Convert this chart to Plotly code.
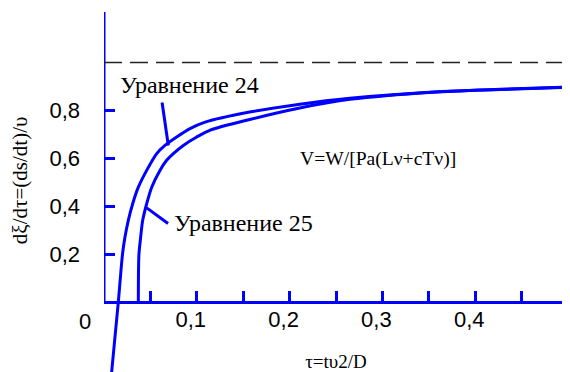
import plotly.graph_objects as go

# --- data ---
tau_24 = [0.0080, 0.0154, 0.0183, 0.0200, 0.0226, 0.0262, 0.0309, 0.0370, 0.0460, 0.0568,
          0.0657, 0.0783, 0.0927, 0.109, 0.157, 0.211, 0.265, 0.355, 0.427, 0.500]
val_24 = [-0.30, 0.000, 0.133, 0.203, 0.272, 0.342, 0.411, 0.480, 0.550, 0.620,
          0.654, 0.689, 0.724, 0.751, 0.793, 0.826, 0.851, 0.877, 0.888, 0.897]

tau_25 = [0.0370, 0.0372, 0.0377, 0.0395, 0.0417, 0.0460, 0.0514, 0.0603, 0.0675, 0.0747,
          0.0855, 0.0999, 0.114, 0.157, 0.211, 0.265, 0.355, 0.427, 0.500]
val_25 = [0.000, 0.133, 0.203, 0.272, 0.342, 0.411, 0.480, 0.550, 0.592, 0.620,
          0.654, 0.689, 0.717, 0.762, 0.810, 0.846, 0.876, 0.887, 0.896]

x_tickvals = [0.05, 0.1, 0.15, 0.2, 0.25, 0.3, 0.35, 0.4, 0.45]
x_ticktext = ["", "0,1", "", "0,2", "", "0,3", "", "0,4", ""]
y_tickvals = [0.2, 0.4, 0.6, 0.8]
y_ticktext = ["0,2", "0,4", "0,6", "0,8"]

limit_value = 1.0
x_range = [0.0, 0.5]
y_range = [-0.29, 1.21]

label_24 = "Уравнение 24"
label_25 = "Уравнение 25"
formula = "V=W/[Pa(Lν+cTν)]"
origin_label = "0"
x_title = "τ=tυ2/D"
y_title = "dξ/dτ=(ds/dt)/υ"

BLUE = "#0000FF"
SERIF = "Liberation Serif, DejaVu Serif, serif"
SANS = "Liberation Sans, Arial, sans-serif"

fig = go.Figure()
fig.add_trace(go.Scatter(x=tau_24, y=val_24, mode="lines", name=label_24,
                         line=dict(color=BLUE, width=3, shape="spline", smoothing=0.8)))
fig.add_trace(go.Scatter(x=tau_25, y=val_25, mode="lines", name=label_25,
                         line=dict(color=BLUE, width=3, shape="spline", smoothing=0.8)))

x_axis_pos = (0 - y_range[0]) / (y_range[1] - y_range[0])

fig.update_layout(
    width=562, height=364,
    margin=dict(l=96, r=2, t=4, b=0),
    paper_bgcolor="white", plot_bgcolor="white",
    showlegend=False,
    xaxis=dict(range=x_range, anchor="free", position=x_axis_pos,
               showline=True, linecolor=BLUE, linewidth=3,
               showgrid=False, zeroline=False,
               tickmode="array", tickvals=x_tickvals, ticktext=x_ticktext,
               ticks="inside", ticklen=10, tickwidth=3, tickcolor=BLUE,
               tickfont=dict(family=SANS, size=22, color="black"),
               ticklabelstandoff=-4, ticklabelshift=-6,
               title=dict(text=x_title, font=dict(family=SERIF, size=19, color="black"), standoff=23),
               automargin=False),
    yaxis=dict(range=y_range, showline=False, showgrid=False, zeroline=False,
               tickmode="array", tickvals=y_tickvals, ticktext=y_ticktext,
               ticks="inside", ticklen=11, tickwidth=3, tickcolor=BLUE,
               tickfont=dict(family=SANS, size=22, color="black"),
               ticklabelstandoff=23,
               automargin=False),
)

# y axis line (from 0 upward)
fig.add_shape(type="line", xref="x", yref="y", x0=0, x1=0, y0=0, y1=y_range[1],
              line=dict(color=BLUE, width=3))
# asymptote
fig.add_shape(type="line", xref="x", yref="y", x0=x_range[0], x1=x_range[1],
              y0=limit_value, y1=limit_value,
              line=dict(color="#222222", width=1.5, dash="18px,8px"))
# leader lines
fig.add_shape(type="line", xref="x", yref="y", x0=0.0626, y0=0.833, x1=0.0693, y1=0.654,
              line=dict(color=BLUE, width=3))
fig.add_shape(type="line", xref="x", yref="y", x0=0.046, y0=0.394, x1=0.069, y1=0.329,
              line=dict(color=BLUE, width=3))

fig.add_annotation(x=0.0151, y=0.904, xref="x", yref="y", text=label_24, showarrow=False,
                   xanchor="left", yanchor="middle", font=dict(family=SERIF, size=24, color="black"))
fig.add_annotation(x=0.0733, y=0.329, xref="x", yref="y", text=label_25, showarrow=False,
                   xanchor="left", yanchor="middle", font=dict(family=SERIF, size=24, color="black"))
fig.add_annotation(x=0.209, y=0.596, xref="x", yref="y", text=formula, showarrow=False,
                   xanchor="left", yanchor="middle", font=dict(family=SERIF, size=19.6, color="black"))
fig.add_annotation(x=-0.041, y=0.139, xref="paper", yref="paper", text=origin_label, showarrow=False,
                   xanchor="center", yanchor="middle", font=dict(family=SANS, size=22, color="black"))
# y-axis title
fig.add_annotation(x=-0.181, y=0.533, xref="paper", yref="paper", text=y_title, showarrow=False,
                   textangle=-90, xanchor="center", yanchor="middle",
                   font=dict(family=SERIF, size=21, color="black"))

fig.write_html("out.html")
